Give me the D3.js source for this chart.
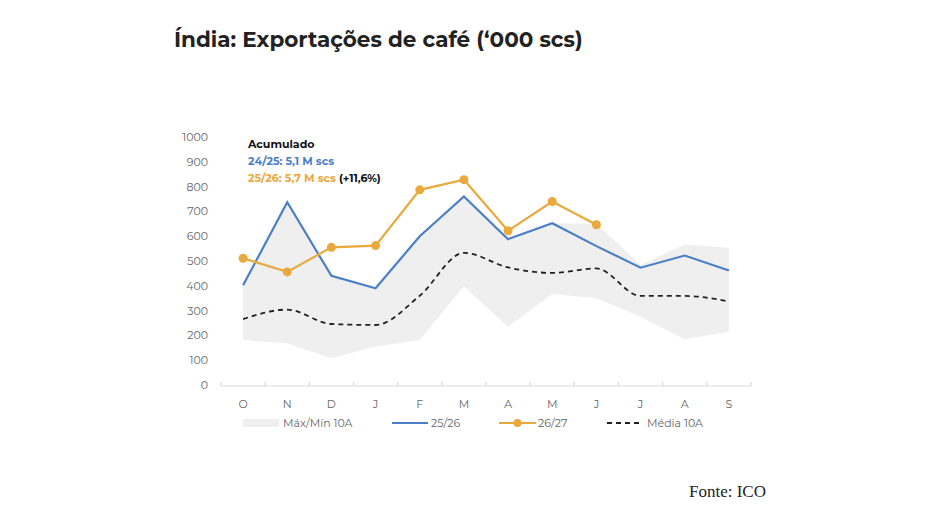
<!DOCTYPE html>
<html>
<head>
<meta charset="utf-8">
<script src="https://cdn.jsdelivr.net/npm/d3@7"></script>
<style>
    body { margin: 0; background: #ffffff; }
</style>
</head>
<body>
<div id="chart"></div>
<script>
// India coffee exports ('000 bags), monthly Oct-Sep

var months = ["O", "N", "D", "J", "F", "M", "A", "M", "J", "J", "A", "S"];
var bandMax = [410, 735, 440, 390, 600, 760, 590, 652, 650, 484, 567, 553];
var bandMin = [181, 168, 108, 155, 181, 398, 235, 367, 350, 275, 184, 215];
var series2526 = [402, 737, 440, 390, 600, 760, 588, 652, 560, 473, 522, 462];
var series2627 = [511, 456, 555, 562, 787, 828, 622, 740, 646];
var media10 = [266, 304, 246, 242, 360, 533, 474, 452, 470, 359, 359, 337];
var yTicks = [0, 100, 200, 300, 400, 500, 600, 700, 800, 900, 1000];
var legendLabels = ["Máx/Mín 10A", "25/26", "26/27", "Média 10A"];

var width = 940;
var height = 530;
var blue = "#4a7fc8";
var orange = "#e9a93c";
var font = "Montserrat, 'Open Sans', 'DejaVu Sans', sans-serif";

var svg = d3.select("#chart")
    .append("svg")
    .attr("width", width)
    .attr("height", height);

svg.append("rect")
    .attr("width", width)
    .attr("height", height)
    .attr("fill", "#ffffff");

// Title
svg.append("text")
    .attr("x", 174)
    .attr("y", 47)
    .attr("fill", "#222222")
    .attr("font-family", font)
    .attr("font-size", "21.5px")
    .attr("font-weight", "bold")
    .text("Índia: Exportações de café (‘000 scs)");

var x = d3.scaleBand()
    .domain(d3.range(months.length))
    .range([221, 751]);

var y = d3.scaleLinear()
    .domain([0, 1000])
    .range([385, 137]);

function cx(i) {
    return x(i) + x.bandwidth() / 2;
}

// Max/min band
var area = d3.area()
    .x(function(d, i) { return cx(i); })
    .y0(function(d, i) { return y(bandMin[i]); })
    .y1(function(d) { return y(d); });

svg.append("path")
    .datum(bandMax)
    .attr("d", area)
    .attr("fill", "#efefef");

// Y axis labels
svg.append("g")
    .selectAll("text")
    .data(yTicks)
    .enter()
    .append("text")
    .attr("x", 208)
    .attr("y", function(d) { return y(d) + 4; })
    .attr("text-anchor", "end")
    .attr("fill", "#666666")
    .attr("font-family", font)
    .attr("font-size", "11px")
    .text(function(d) { return d; });

// X axis line and ticks between categories
svg.append("line")
    .attr("x1", 221)
    .attr("x2", 751)
    .attr("y1", y(0) + 1)
    .attr("y2", y(0) + 1)
    .attr("stroke", "#d9d9d9")
    .attr("stroke-width", 1.2);

svg.append("g")
    .selectAll("line")
    .data(d3.range(months.length + 1))
    .enter()
    .append("line")
    .attr("x1", function(d) { return 221 + d * x.step(); })
    .attr("x2", function(d) { return 221 + d * x.step(); })
    .attr("y1", y(0) + 1)
    .attr("y2", y(0) - 3)
    .attr("stroke", "#d9d9d9")
    .attr("stroke-width", 1.2);

svg.append("g")
    .selectAll("text")
    .data(months)
    .enter()
    .append("text")
    .attr("x", function(d, i) { return cx(i); })
    .attr("y", 408)
    .attr("text-anchor", "middle")
    .attr("fill", "#666666")
    .attr("font-family", font)
    .attr("font-size", "11px")
    .text(function(d) { return d; });

// Lines
var line = d3.line()
    .x(function(d, i) { return cx(i); })
    .y(function(d) { return y(d); });

var smooth = d3.line()
    .x(function(d, i) { return cx(i); })
    .y(function(d) { return y(d); })
    .curve(d3.curveMonotoneX);

svg.append("path")
    .datum(media10)
    .attr("d", smooth)
    .attr("fill", "none")
    .attr("stroke", "#222222")
    .attr("stroke-width", 1.8)
    .attr("stroke-dasharray", "5,4");

svg.append("path")
    .datum(series2526)
    .attr("d", line)
    .attr("fill", "none")
    .attr("stroke", blue)
    .attr("stroke-width", 2.2);

svg.append("path")
    .datum(series2627)
    .attr("d", line)
    .attr("fill", "none")
    .attr("stroke", orange)
    .attr("stroke-width", 2.2);

svg.append("g")
    .selectAll("circle")
    .data(series2627)
    .enter()
    .append("circle")
    .attr("cx", function(d, i) { return cx(i); })
    .attr("cy", function(d) { return y(d); })
    .attr("r", 4.5)
    .attr("fill", orange);

// Accumulated annotation
var note = svg.append("text")
    .attr("font-family", font)
    .attr("font-size", "11px")
    .attr("font-weight", "bold");

note.append("tspan")
    .attr("x", 248)
    .attr("y", 148)
    .attr("fill", "#111111")
    .text("Acumulado");

note.append("tspan")
    .attr("x", 248)
    .attr("y", 165)
    .attr("fill", blue)
    .text("24/25: 5,1 M scs");

note.append("tspan")
    .attr("x", 248)
    .attr("y", 182)
    .attr("fill", orange)
    .text("25/26: 5,7 M scs ");

note.append("tspan")
    .attr("fill", "#111111")
    .text("(+11,6%)");

// Legend
var legendY = 423;

svg.append("rect")
    .attr("x", 243)
    .attr("y", legendY - 4)
    .attr("width", 36)
    .attr("height", 8)
    .attr("fill", "#efefef");

svg.append("line")
    .attr("x1", 392).attr("x2", 428)
    .attr("y1", legendY).attr("y2", legendY)
    .attr("stroke", blue)
    .attr("stroke-width", 2.2);

svg.append("line")
    .attr("x1", 499).attr("x2", 536)
    .attr("y1", legendY).attr("y2", legendY)
    .attr("stroke", orange)
    .attr("stroke-width", 2.2);

svg.append("circle")
    .attr("cx", 517.5)
    .attr("cy", legendY)
    .attr("r", 4)
    .attr("fill", orange);

svg.append("line")
    .attr("x1", 607).attr("x2", 643)
    .attr("y1", legendY).attr("y2", legendY)
    .attr("stroke", "#222222")
    .attr("stroke-width", 1.8)
    .attr("stroke-dasharray", "5,4");

var legendX = [283, 431, 538, 647];

svg.append("g")
    .selectAll("text")
    .data(legendLabels)
    .enter()
    .append("text")
    .attr("x", function(d, i) { return legendX[i]; })
    .attr("y", legendY + 4)
    .attr("fill", "#666666")
    .attr("font-family", font)
    .attr("font-size", "11px")
    .text(function(d) { return d; });

// Source
svg.append("text")
    .attr("x", 689)
    .attr("y", 497)
    .attr("fill", "#222222")
    .attr("font-family", "'Liberation Serif', 'DejaVu Serif', serif")
    .attr("font-size", "17px")
    .text("Fonte: ICO");
</script>
</body>
</html>
